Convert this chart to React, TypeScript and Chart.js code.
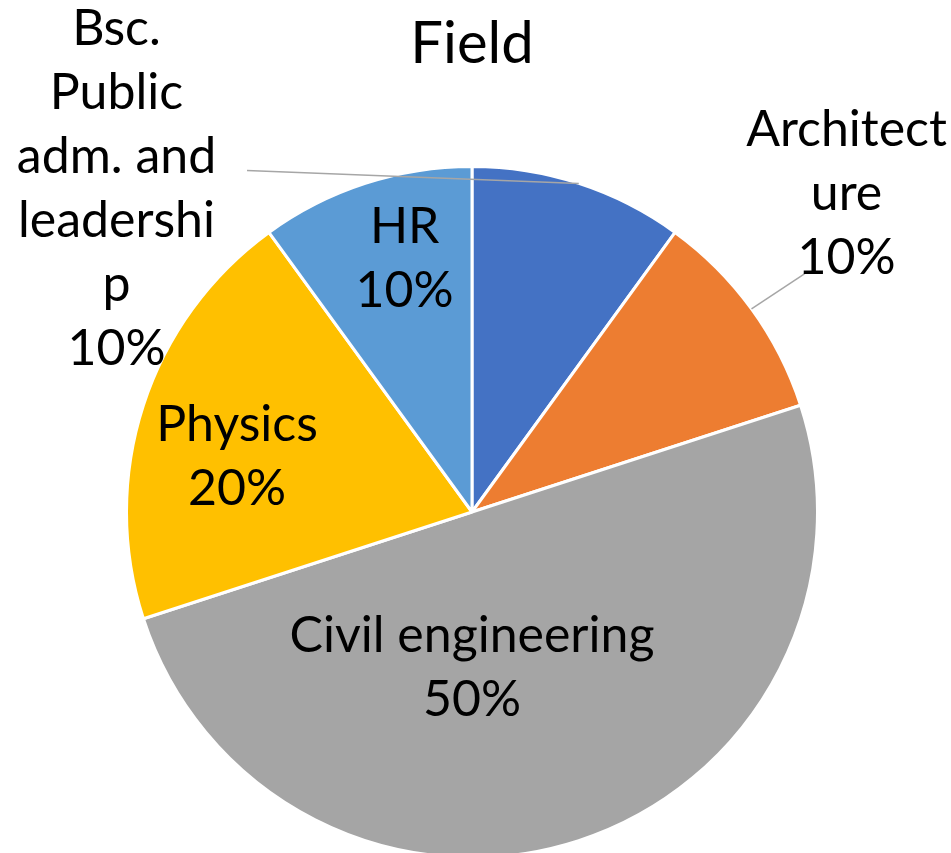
import React, { useEffect, useRef } from "react";
import { Chart, registerables } from "chart.js";

Chart.register(...registerables);

const titleText = "Field";
const categories = ["Bsc. Public adm. and leadership", "Architecture", "Civil engineering", "Physics", "HR"];
const counts = [1, 1, 5, 2, 1];
const sliceColors = ["#4472C4", "#ED7D31", "#A5A5A5", "#FFC000", "#5B9BD5"];
// how the labels wrap in the picture
const labelLines = [
  ["Bsc.", "Public", "adm. and", "leadershi", "p"],
  ["Architect", "ure"],
  ["Civil engineering"],
  ["Physics"],
  ["HR"],
];

// label block centres, relative to pie centre, in radius units
const labelAnchors = [
  [-1.029, -0.936],
  [1.084, -0.922],
  [0, 0.451],
  [-0.68, -0.16],
  [-0.195, -0.733],
];
// leader-line start points (relative to pie centre, in radius units)
const leaderStarts: (number[] | null)[] = [
  [(248 - 472) / 344, (172 - 512) / 344],
  [(803 - 472) / 344, (275 - 512) / 344],
  null,
  null,
  null,
];

const FONT = "Lato, 'Noto Sans', sans-serif";
const LABEL_SIZE = 50;
const LINE_H = 64;
const TITLE_SIZE = 58;

const labelPlugin = {
  id: "excelLabels",
  afterDraw(chart: any) {
    const ctx = chart.ctx;
    const meta = chart.getDatasetMeta(0);
    const total = counts.reduce((a, b) => a + b, 0);
    ctx.save();
    // title
    ctx.fillStyle = "#000";
    ctx.textAlign = "center";
    ctx.textBaseline = "middle";
    ctx.font = `${TITLE_SIZE}px ${FONT}`;
    ctx.fillText(titleText, 472, 44);

    meta.data.forEach((arc: any, i: number) => {
      const p = arc.getProps(["x", "y", "startAngle", "endAngle", "outerRadius"], true);
      const r = p.outerRadius;
      const lines = [...labelLines[i], Math.round((counts[i] / total) * 100) + "%"];
      const cx = p.x + labelAnchors[i][0] * r;
      const cy = p.y + labelAnchors[i][1] * r;
      const ls = leaderStarts[i];
      if (ls) {
        const mid = (p.startAngle + p.endAngle) / 2;
        ctx.strokeStyle = "#A6A6A6";
        ctx.lineWidth = 1.5;
        ctx.beginPath();
        ctx.moveTo(p.x + ls[0] * r, p.y + ls[1] * r);
        ctx.lineTo(p.x + Math.cos(mid) * r, p.y + Math.sin(mid) * r);
        ctx.stroke();
      }
      ctx.fillStyle = "#000";
      ctx.font = `${LABEL_SIZE}px ${FONT}`;
      const n = lines.length;
      lines.forEach((t, k) => {
        ctx.fillText(t, cx, cy + (k - (n - 1) / 2) * LINE_H);
      });
    });
    ctx.restore();
  },
};

export default function App() {
  const ref = useRef<HTMLCanvasElement>(null);
  useEffect(() => {
    if (!ref.current) return;
    const chart = new Chart(ref.current, {
      type: "pie",
      data: {
        labels: categories,
        datasets: [
          {
            data: counts,
            backgroundColor: sliceColors,
            borderColor: "#FFFFFF",
            borderWidth: 3,
          },
        ],
      },
      options: {
        animation: false,
        responsive: true,
        maintainAspectRatio: false,
        layout: { padding: { top: 165, bottom: 1, left: 125, right: 132 } },
        plugins: {
          legend: { display: false },
          title: { display: false },
          tooltip: { enabled: false },
        },
      },
      plugins: [labelPlugin],
    });
    return () => chart.destroy();
  }, []);
  return (
    <div style={{ position: "absolute", left: 0, top: 0, width: 951, height: 853, overflow: "hidden", background: "#fff" }}>
      <div style={{ position: "relative", width: 951, height: 860 }}>
        <canvas ref={ref} />
      </div>
    </div>
  );
}
